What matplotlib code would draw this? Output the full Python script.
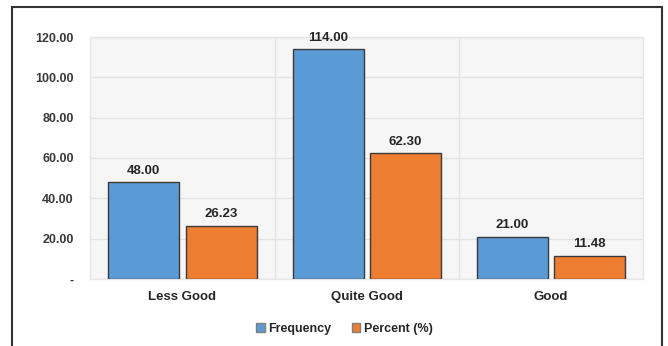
import numpy as np
import matplotlib.pyplot as plt
from matplotlib.patches import Rectangle

# dados
categorias = ['Less Good', 'Quite Good', 'Good']
frequencia = [48.00, 114.00, 21.00]
percentual = [26.23, 62.30, 11.48]
yticks = [0, 20, 40, 60, 80, 100, 120]
ytick_labels = ['-', '20.00', '40.00', '60.00', '80.00', '100.00', '120.00']

fonte = ['Liberation Sans Narrow', 'Liberation Sans', 'DejaVu Sans']
plt.rcParams['font.family'] = fonte

fig = plt.figure(figsize=(6.68, 3.46), dpi=100)
fig.patch.set_facecolor('white')
ax = fig.add_axes([0.135, 0.194, 0.828, 0.699])
ax.set_facecolor('#f6f6f6')

x = np.arange(len(categorias))
largura = 0.385
desloc = 0.21
b1 = ax.bar(x - desloc, frequencia, largura, color='#5b9bd5', edgecolor='#3a3a3a',
            linewidth=1.0, label='Frequency', zorder=3)
b2 = ax.bar(x + desloc, percentual, largura, color='#ed7d31', edgecolor='#3a3a3a',
            linewidth=1.0, label='Percent (%)', zorder=3)

for barras in (b1, b2):
    for b in barras:
        ax.annotate(f'{b.get_height():.2f}', (b.get_x() + b.get_width() / 2, b.get_height()),
                    xytext=(0, 4), textcoords='offset points', ha='center', va='bottom',
                    fontsize=9.5, fontweight='bold', color='#262626')

ax.set_xlim(-0.5, 2.5)
ax.set_ylim(0, 120)
ax.set_yticks(yticks)
ax.set_yticklabels(ytick_labels, fontsize=9, fontweight='bold', color='#3a3a3a')
ax.set_xticks(x)
ax.set_xticklabels(categorias, fontsize=9.5, fontweight='bold', color='#262626')
ax.tick_params(axis='both', length=0)
ax.tick_params(axis='y', pad=12)
ax.tick_params(axis='x', pad=9)

ax.yaxis.grid(True, color='#e2e2e2', linewidth=1.0, zorder=0)
for xv in (0.5, 1.5):
    ax.axvline(xv, color='#e2e2e2', linewidth=1.0, zorder=1)
for s in ax.spines.values():
    s.set_color('#e6e6e6')
    s.set_linewidth(1.0)

leg = ax.legend(loc='upper center', bbox_to_anchor=(0.46, -0.135), ncol=2, frameon=False,
                handlelength=0.7, handleheight=0.7, handletextpad=0.3, columnspacing=1.6,
                prop={'size': 9, 'weight': 'bold'})
for t in leg.get_texts():
    t.set_color('#262626')
for h in leg.legend_handles:
    h.set_edgecolor('#7f7f7f')

# moldura externa
fig.add_artist(Rectangle((12 / 668, -0.01), 650 / 668, 1 - 7 / 346 + 0.01,
                         transform=fig.transFigure, fill=False, edgecolor='#333333',
                         linewidth=1.5))

fig.savefig('out.png', dpi=100)
